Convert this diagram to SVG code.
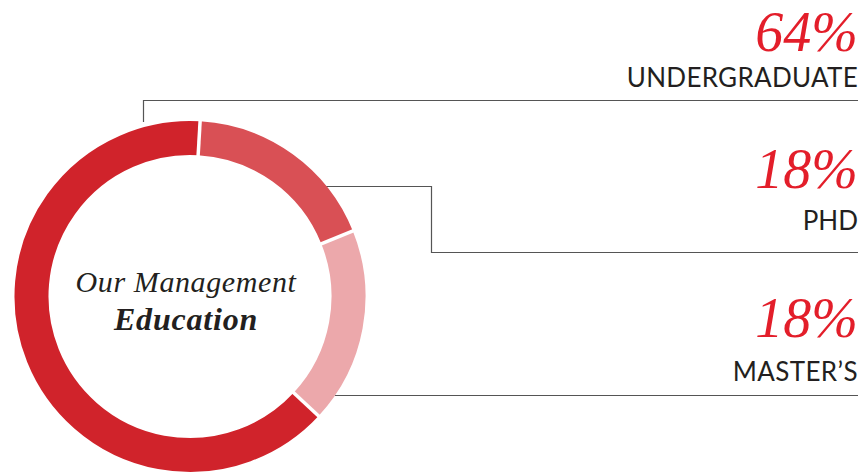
<svg xmlns="http://www.w3.org/2000/svg" width="863" height="475" viewBox="0 0 863 475">
<style>
.seg{fill:none;stroke-width:34}
.gap{stroke:#fff;stroke-width:3.5}
.conn{fill:none;stroke:#555;stroke-width:1.2}
.pct{font-family:"Liberation Serif",serif;font-style:italic;font-size:56px;fill:#e31e2a;text-anchor:end}
.lbl{font-family:Lato,"Liberation Sans",sans-serif;font-size:26px;fill:#231f20;text-anchor:end}
.ctr{font-family:"Liberation Serif",serif;font-style:italic;fill:#231f20;text-anchor:middle}
</style>
<rect width="863" height="475" fill="#fff"/>
<g id="connectors">
<polyline class="conn" points="143.5,122 143.5,100.5 858,100.5"/>
<polyline class="conn" points="325,186.5 431.5,186.5 431.5,252.5 858,252.5"/>
<polyline class="conn" points="335,395.5 858,395.5"/>
</g>
<g id="donut">
<path class="seg" stroke="#d0232b" d="M306.11,404.39 A158.5,158.5 0 1 1 199.12,138.26"/>
<path class="seg" stroke="#d95055" d="M199.12,138.26 A158.5,158.5 0 0 1 337.06,237.38"/>
<path class="seg" stroke="#eca8ab" d="M337.06,237.38 A158.5,158.5 0 0 1 306.11,404.39"/>
<line class="gap" x1="198.06" y1="156.73" x2="200.19" y2="119.79"/>
<line class="gap" x1="319.90" y1="244.28" x2="354.23" y2="230.48"/>
<line class="gap" x1="292.56" y1="391.80" x2="319.66" y2="416.99"/>
</g>
<g id="center-label">
<text class="ctr" x="186" y="292" font-size="30" letter-spacing="0.6">Our Management</text>
<text class="ctr" x="186" y="330" font-size="32" font-weight="bold" letter-spacing="0.8">Education</text>
</g>
<g id="undergraduate">
<text class="pct" x="858" y="51">64%</text>
<text class="lbl" x="858" y="87" letter-spacing="0.3">UNDERGRADUATE</text>
</g>
<g id="phd">
<text class="pct" x="858" y="188">18%</text>
<text class="lbl" x="858" y="230">PHD</text>
</g>
<g id="masters">
<text class="pct" x="858" y="337">18%</text>
<text class="lbl" x="858" y="381" letter-spacing="0.4">MASTER’S</text>
</g>
</svg>
